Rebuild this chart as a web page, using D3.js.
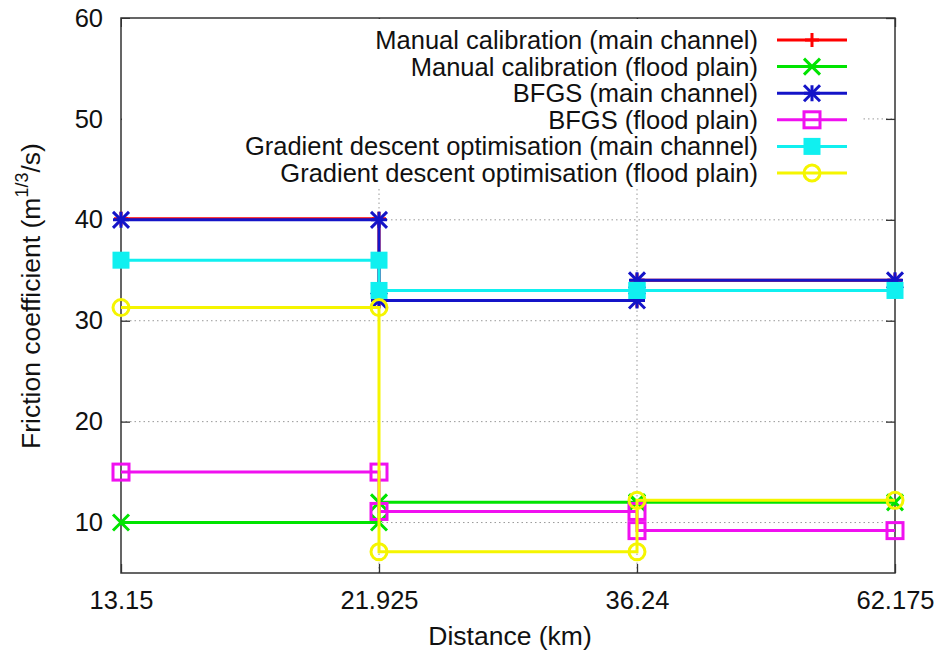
<!DOCTYPE html>
<html>
<head>
<meta charset="utf-8">
<script src="https://cdn.jsdelivr.net/npm/d3@7.9.0/dist/d3.min.js"></script>
<style>
  body { margin: 0; background: #fff; }
  svg text { font-family: "Liberation Sans", Arial, Helvetica, sans-serif; fill: #111; }
</style>
</head>
<body>
<div id="chart"></div>
<script>
// x categories (equally spaced positions)
const xLabels = ['13.15', '21.925', '36.24', '62.175'];
// each series is a step path, vertex i sits at category stepX[i]
const stepX = [0, 1, 1, 2, 2, 3];
const manualMain = [40.1, 40.1, 32, 32, 34, 34];
const manualFlood = [10, 10, 12, 12, 12, 12];
const bfgsMain = [40, 40, 32, 32, 34, 34];
const bfgsFlood = [15, 15, 11.1, 11.1, 9.2, 9.2];
const gdMain = [36, 36, 33, 33, 33, 33];
const gdFlood = [31.3, 31.3, 7.1, 7.1, 12.2, 12.2];
const yTicks = [10, 20, 30, 40, 50, 60];

const seriesNames = [
  'Manual calibration (main channel)',
  'Manual calibration (flood plain)',
  'BFGS (main channel)',
  'BFGS (flood plain)',
  'Gradient descent optimisation (main channel)',
  'Gradient descent optimisation (flood plain)'
];
const seriesValues = [manualMain, manualFlood, bfgsMain, bfgsFlood, gdMain, gdFlood];
const colors = ['#ff0000', '#00e400', '#1414c8', '#f010f0', '#10f0f0', '#f5f500'];
const markers = ['plus', 'cross', 'star', 'square', 'fillsquare', 'circle'];

const W = 938, H = 660;
const pLeft = 121, pRight = 895, pTop = 18, pBottom = 573;
const fs = 25.5;

const svg = d3.select('#chart').append('svg')
  .attr('width', W).attr('height', H);

const x = d3.scaleLinear().domain([0, xLabels.length - 1]).range([pLeft, pRight]);
const y = d3.scaleLinear().domain([5, 60]).range([pBottom, pTop]);

// grid (dotted)
const grid = svg.append('g').attr('stroke', '#999').attr('stroke-width', 1)
  .attr('stroke-dasharray', '1.5,3');
grid.selectAll('line.h').data(yTicks.filter(d => d < 60)).join('line')
  .attr('class', 'h')
  .attr('x1', pLeft).attr('x2', pRight)
  .attr('y1', d => y(d)).attr('y2', d => y(d));
grid.selectAll('line.v').data([1, 2]).join('line')
  .attr('class', 'v')
  .attr('x1', d => x(d)).attr('x2', d => x(d))
  .attr('y1', pTop).attr('y2', pBottom);

// axes with inward ticks
const axisStyle = g => {
  g.select('.domain').remove();
  g.selectAll('.tick line').attr('stroke', '#333').attr('stroke-width', 1.3);
  g.selectAll('.tick text').attr('font-size', fs).attr('fill', '#111')
    .attr('font-family', '"Liberation Sans", Arial, sans-serif');
};
svg.append('g').attr('transform', `translate(${pLeft},0)`)
  .call(d3.axisLeft(y).tickValues(yTicks).tickSizeInner(-9).tickSizeOuter(0).tickPadding(18))
  .call(axisStyle);
svg.append('g').attr('transform', `translate(${pRight},0)`)
  .call(d3.axisRight(y).tickValues(yTicks).tickSizeInner(-9).tickSizeOuter(0).tickFormat(''))
  .call(axisStyle);
svg.append('g').attr('transform', `translate(0,${pBottom})`)
  .call(d3.axisBottom(x).tickValues([0, 1, 2, 3]).tickFormat(i => xLabels[i])
    .tickSizeInner(-9).tickSizeOuter(0).tickPadding(18))
  .call(axisStyle);
svg.append('g').attr('transform', `translate(0,${pTop})`)
  .call(d3.axisTop(x).tickValues([0, 1, 2, 3]).tickFormat('').tickSizeInner(-9).tickSizeOuter(0))
  .call(axisStyle);

// border
svg.append('rect')
  .attr('x', pLeft).attr('y', pTop)
  .attr('width', pRight - pLeft).attr('height', pBottom - pTop)
  .attr('fill', 'none').attr('stroke', '#333').attr('stroke-width', 1.5);

// opaque key box
svg.append('rect')
  .attr('x', pLeft + 1).attr('y', pTop + 1)
  .attr('width', 862 - pLeft).attr('height', 187 - pTop)
  .attr('fill', '#fff');

function drawMarker(g, type, cx, cy, color) {
  const s = type === 'plus' ? 7 : 8;
  if (type === 'plus' || type === 'star') {
    g.append('path').attr('d', `M${cx - s},${cy}H${cx + s}M${cx},${cy - s}V${cy + s}`)
      .attr('stroke', color).attr('stroke-width', 3).attr('fill', 'none');
  }
  if (type === 'cross' || type === 'star') {
    g.append('path').attr('d', `M${cx - s},${cy - s}L${cx + s},${cy + s}M${cx - s},${cy + s}L${cx + s},${cy - s}`)
      .attr('stroke', color).attr('stroke-width', 3).attr('fill', 'none');
  }
  if (type === 'square') {
    g.append('rect').attr('x', cx - 8).attr('y', cy - 8).attr('width', 16).attr('height', 16)
      .attr('fill', 'none').attr('stroke', color).attr('stroke-width', 3);
  }
  if (type === 'fillsquare') {
    g.append('rect').attr('x', cx - 8.5).attr('y', cy - 8.5).attr('width', 17).attr('height', 17)
      .attr('fill', color);
  }
  if (type === 'circle') {
    g.append('circle').attr('cx', cx).attr('cy', cy).attr('r', 8)
      .attr('fill', 'none').attr('stroke', color).attr('stroke-width', 3);
  }
}

const line = d3.line().x(d => x(d[0])).y(d => y(d[1]));

seriesValues.forEach((vals, k) => {
  const pts = vals.map((v, i) => [stepX[i], v]);
  const g = svg.append('g');
  g.append('path').datum(pts).attr('d', line)
    .attr('fill', 'none').attr('stroke', colors[k]).attr('stroke-width', 3);
  pts.forEach(p => drawMarker(g, markers[k], x(p[0]), y(p[1]), colors[k]));
});

// legend
const legend = svg.append('g');
seriesNames.forEach((name, k) => {
  const ly = 40 + k * 26.6;
  legend.append('text').attr('x', 758).attr('y', ly).attr('dy', '0.35em')
    .attr('text-anchor', 'end').attr('font-size', fs).text(name);
  legend.append('line').attr('x1', 777).attr('x2', 847).attr('y1', ly).attr('y2', ly)
    .attr('stroke', colors[k]).attr('stroke-width', 3);
  drawMarker(legend, markers[k], 812, ly, colors[k]);
});

// axis titles
svg.append('text').attr('x', (pLeft + pRight) / 2 + 2).attr('y', 645)
  .attr('text-anchor', 'middle').attr('font-size', 26.5).text('Distance (km)');

const yt = svg.append('text').attr('transform', `translate(40,296) rotate(-90)`)
  .attr('text-anchor', 'middle').attr('font-size', 26.5);
yt.append('tspan').text('Friction coefficient (m');
yt.append('tspan').attr('dy', -12).attr('font-size', 18).text('1/3');
yt.append('tspan').attr('dy', 12).text('/s)');
</script>
</body>
</html>
